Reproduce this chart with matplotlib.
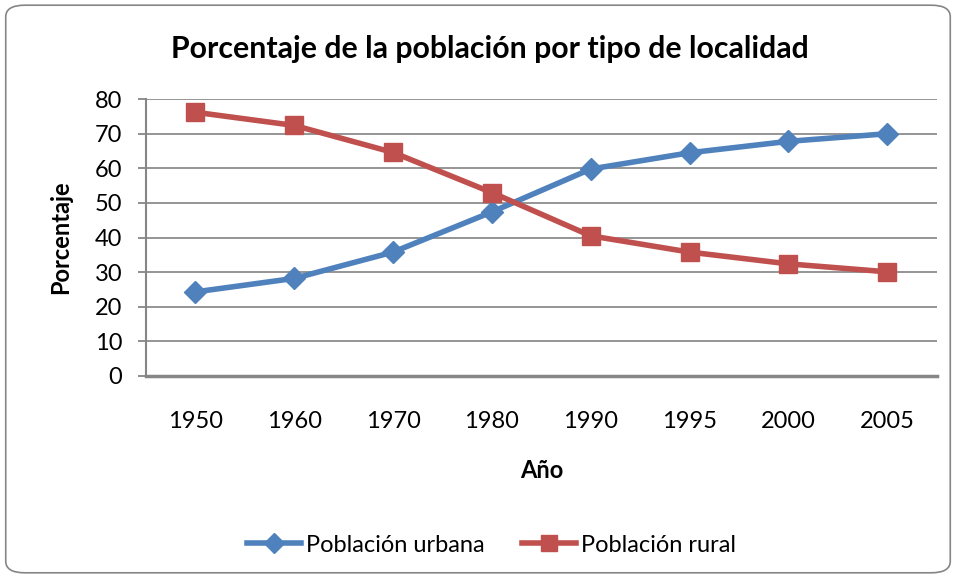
import matplotlib
matplotlib.use("Agg")
import matplotlib.pyplot as plt
from matplotlib.patches import FancyBboxPatch

years = ["1950", "1960", "1970", "1980", "1990", "1995", "2000", "2005"]
urbana = [24.3, 28.2, 35.8, 47.4, 59.8, 64.5, 67.8, 70.0]
rural = [76.2, 72.4, 64.6, 53.0, 40.5, 35.8, 32.4, 30.1]

plt.rcParams['font.family'] = ['Lato', 'DejaVu Sans']

fig = plt.figure(figsize=(9.56, 5.78), dpi=100)
border = FancyBboxPatch((0.006, 0.009), 0.988, 0.982, boxstyle="round,pad=0,rounding_size=0.02",
                        transform=fig.transFigure, facecolor="none", edgecolor="#868686",
                        linewidth=1.2, zorder=0)
fig.patches.append(border)

ax = fig.add_axes([0.1527, 0.3495, 0.827, 0.479])
ax.set_facecolor("none")
x = list(range(len(years)))
ax.plot(x, urbana, color="#4F81BD", linewidth=4, marker="D", markersize=11.5,
        label="Población urbana", zorder=3)
ax.plot(x, rural, color="#C0504D", linewidth=4, marker="s", markersize=13,
        label="Población rural", zorder=3)

ax.set_xlim(-0.5, len(years) - 0.5)
ax.set_ylim(0, 80)
ax.set_yticks(range(0, 81, 10))
ax.set_xticks(x)
ax.set_xticklabels(years)
ax.yaxis.grid(True, color="#8c8c8c", linewidth=1.3)
ax.set_axisbelow(True)
for s in ["top", "right"]:
    ax.spines[s].set_visible(False)
ax.spines["left"].set_color("#868686")
ax.spines["left"].set_linewidth(1.5)
ax.spines["bottom"].set_color("#868686")
ax.spines["bottom"].set_linewidth(2.5)
ax.tick_params(axis="y", length=6, width=1.3, color="#868686", labelsize=17, pad=11)
ax.tick_params(axis="x", length=0, labelsize=17, pad=25)

ax.set_ylabel("Porcentaje", fontsize=17, fontweight="bold", labelpad=16)
ax.set_xlabel("Año", fontsize=17, fontweight="bold", labelpad=20)
fig.text(0.512, 0.915, "Porcentaje de la población por tipo de localidad", ha="center", va="center",
         fontsize=21.8, fontweight="bold")

fig.legend(loc="center", bbox_to_anchor=(0.514, 0.057), ncol=2, frameon=False, fontsize=17,
           handlelength=2.3, columnspacing=1.6, handletextpad=0.2, markerscale=0.85)

fig.savefig("out.png", dpi=100)
